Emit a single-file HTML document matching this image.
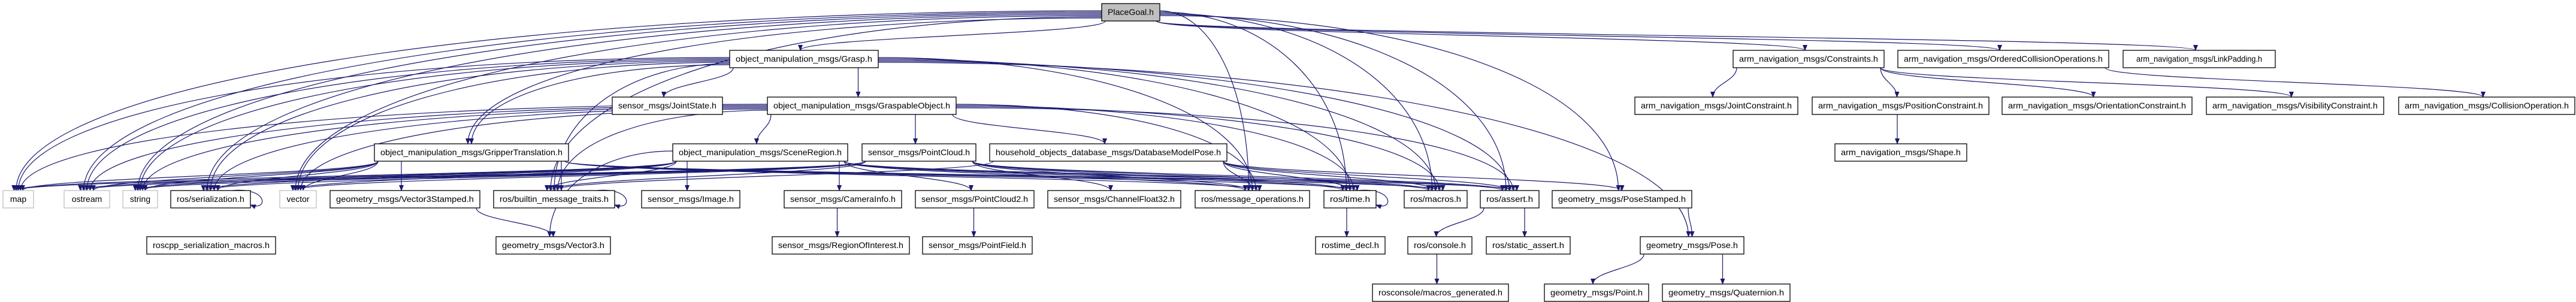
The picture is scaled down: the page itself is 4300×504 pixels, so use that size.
<!DOCTYPE html>
<html><head><meta charset="utf-8"><style>
html,body{margin:0;padding:0;background:#fff;width:4300px;height:504px;overflow:hidden}
svg{display:block}
text{font-family:"Liberation Sans","DejaVu Sans",sans-serif;font-size:14px;fill:#000}
</style></head><body>
<svg id="g" width="4300" height="504" viewBox="0 0 4300 504" xmlns="http://www.w3.org/2000/svg">
<defs><marker id="a" markerWidth="10" markerHeight="8" refX="9" refY="4" orient="auto" markerUnits="userSpaceOnUse"><path d="M0,0 L10,4 L0,8 z" fill="#191970"/></marker></defs>
<g id="edges" fill="none" stroke="#191970" stroke-width="1.2"></g>
<g id="nodes" stroke-width="1.3">
<rect x="1839" y="6" width="97" height="29" fill="#bfbfbf" stroke="#000"/><text x="1887.5" y="25" text-anchor="middle" textLength="77" lengthAdjust="spacingAndGlyphs">PlaceGoal.h</text>
<rect x="1218" y="84" width="248" height="29" fill="#fff" stroke="#000"/><text x="1342" y="103" text-anchor="middle" textLength="228" lengthAdjust="spacingAndGlyphs">object_manipulation_msgs/Grasp.h</text>
<rect x="2893" y="84" width="252" height="29" fill="#fff" stroke="#000"/><text x="3019" y="103" text-anchor="middle" textLength="232" lengthAdjust="spacingAndGlyphs">arm_navigation_msgs/Constraints.h</text>
<rect x="3168" y="84" width="352" height="29" fill="#fff" stroke="#000"/><text x="3344" y="103" text-anchor="middle" textLength="332" lengthAdjust="spacingAndGlyphs">arm_navigation_msgs/OrderedCollisionOperations.h</text>
<rect x="3544" y="84" width="254" height="29" fill="#fff" stroke="#000"/><text x="3671" y="103" text-anchor="middle" textLength="210" lengthAdjust="spacingAndGlyphs">arm_navigation_msgs/LinkPadding.h</text>
<rect x="1022" y="162" width="184" height="29" fill="#fff" stroke="#000"/><text x="1114" y="181" text-anchor="middle" textLength="164" lengthAdjust="spacingAndGlyphs">sensor_msgs/JointState.h</text>
<rect x="1281" y="162" width="315" height="29" fill="#fff" stroke="#000"/><text x="1438.5" y="181" text-anchor="middle" textLength="295" lengthAdjust="spacingAndGlyphs">object_manipulation_msgs/GraspableObject.h</text>
<rect x="2729" y="162" width="272" height="29" fill="#fff" stroke="#000"/><text x="2865" y="181" text-anchor="middle" textLength="252" lengthAdjust="spacingAndGlyphs">arm_navigation_msgs/JointConstraint.h</text>
<rect x="3025" y="162" width="295" height="29" fill="#fff" stroke="#000"/><text x="3172.5" y="181" text-anchor="middle" textLength="275" lengthAdjust="spacingAndGlyphs">arm_navigation_msgs/PositionConstraint.h</text>
<rect x="3342" y="162" width="317" height="29" fill="#fff" stroke="#000"/><text x="3500.5" y="181" text-anchor="middle" textLength="297" lengthAdjust="spacingAndGlyphs">arm_navigation_msgs/OrientationConstraint.h</text>
<rect x="3683" y="162" width="296" height="29" fill="#fff" stroke="#000"/><text x="3831" y="181" text-anchor="middle" textLength="276" lengthAdjust="spacingAndGlyphs">arm_navigation_msgs/VisibilityConstraint.h</text>
<rect x="4004" y="162" width="294" height="29" fill="#fff" stroke="#000"/><text x="4151" y="181" text-anchor="middle" textLength="274" lengthAdjust="spacingAndGlyphs">arm_navigation_msgs/CollisionOperation.h</text>
<rect x="625" y="240" width="324" height="29" fill="#fff" stroke="#000"/><text x="787" y="259" text-anchor="middle" textLength="304" lengthAdjust="spacingAndGlyphs">object_manipulation_msgs/GripperTranslation.h</text>
<rect x="1123" y="240" width="292" height="29" fill="#fff" stroke="#000"/><text x="1269" y="259" text-anchor="middle" textLength="272" lengthAdjust="spacingAndGlyphs">object_manipulation_msgs/SceneRegion.h</text>
<rect x="1439" y="240" width="190" height="29" fill="#fff" stroke="#000"/><text x="1534" y="259" text-anchor="middle" textLength="170" lengthAdjust="spacingAndGlyphs">sensor_msgs/PointCloud.h</text>
<rect x="1652" y="240" width="396" height="29" fill="#fff" stroke="#000"/><text x="1850" y="259" text-anchor="middle" textLength="376" lengthAdjust="spacingAndGlyphs">household_objects_database_msgs/DatabaseModelPose.h</text>
<rect x="3063" y="240" width="220" height="29" fill="#fff" stroke="#000"/><text x="3173" y="259" text-anchor="middle" textLength="200" lengthAdjust="spacingAndGlyphs">arm_navigation_msgs/Shape.h</text>
<rect x="5" y="318" width="51" height="29" fill="#fff" stroke="#bfbfbf"/><text x="30.5" y="337" text-anchor="middle">map</text>
<rect x="107" y="318" width="76" height="29" fill="#fff" stroke="#bfbfbf"/><text x="145" y="337" text-anchor="middle">ostream</text>
<rect x="205" y="318" width="58" height="29" fill="#fff" stroke="#bfbfbf"/><text x="234" y="337" text-anchor="middle">string</text>
<rect x="285" y="318" width="133" height="29" fill="#fff" stroke="#000"/><text x="351.5" y="337" text-anchor="middle" textLength="113" lengthAdjust="spacingAndGlyphs">ros/serialization.h</text>
<rect x="467" y="318" width="61" height="29" fill="#fff" stroke="#bfbfbf"/><text x="497.5" y="337" text-anchor="middle">vector</text>
<rect x="551" y="318" width="250" height="29" fill="#fff" stroke="#000"/><text x="676" y="337" text-anchor="middle" textLength="230" lengthAdjust="spacingAndGlyphs">geometry_msgs/Vector3Stamped.h</text>
<rect x="824" y="318" width="202" height="29" fill="#fff" stroke="#000"/><text x="925" y="337" text-anchor="middle" textLength="182" lengthAdjust="spacingAndGlyphs">ros/builtin_message_traits.h</text>
<rect x="1071" y="318" width="164" height="29" fill="#fff" stroke="#000"/><text x="1153" y="337" text-anchor="middle" textLength="144" lengthAdjust="spacingAndGlyphs">sensor_msgs/Image.h</text>
<rect x="1309" y="318" width="196" height="29" fill="#fff" stroke="#000"/><text x="1407" y="337" text-anchor="middle" textLength="176" lengthAdjust="spacingAndGlyphs">sensor_msgs/CameraInfo.h</text>
<rect x="1528" y="318" width="198" height="29" fill="#fff" stroke="#000"/><text x="1627" y="337" text-anchor="middle" textLength="178" lengthAdjust="spacingAndGlyphs">sensor_msgs/PointCloud2.h</text>
<rect x="1749" y="318" width="222" height="29" fill="#fff" stroke="#000"/><text x="1860" y="337" text-anchor="middle" textLength="202" lengthAdjust="spacingAndGlyphs">sensor_msgs/ChannelFloat32.h</text>
<rect x="1995" y="318" width="191" height="29" fill="#fff" stroke="#000"/><text x="2090.5" y="337" text-anchor="middle" textLength="171" lengthAdjust="spacingAndGlyphs">ros/message_operations.h</text>
<rect x="2210" y="318" width="87" height="29" fill="#fff" stroke="#000"/><text x="2253.5" y="337" text-anchor="middle" textLength="67" lengthAdjust="spacingAndGlyphs">ros/time.h</text>
<rect x="2344" y="318" width="105" height="29" fill="#fff" stroke="#000"/><text x="2396.5" y="337" text-anchor="middle" textLength="85" lengthAdjust="spacingAndGlyphs">ros/macros.h</text>
<rect x="2471" y="318" width="98" height="29" fill="#fff" stroke="#000"/><text x="2520" y="337" text-anchor="middle" textLength="78" lengthAdjust="spacingAndGlyphs">ros/assert.h</text>
<rect x="2591" y="318" width="233" height="29" fill="#fff" stroke="#000"/><text x="2707.5" y="337" text-anchor="middle" textLength="213" lengthAdjust="spacingAndGlyphs">geometry_msgs/PoseStamped.h</text>
<rect x="245" y="395" width="215" height="29" fill="#fff" stroke="#000"/><text x="352.5" y="414" text-anchor="middle" textLength="195" lengthAdjust="spacingAndGlyphs">roscpp_serialization_macros.h</text>
<rect x="828" y="395" width="191" height="29" fill="#fff" stroke="#000"/><text x="923.5" y="414" text-anchor="middle" textLength="171" lengthAdjust="spacingAndGlyphs">geometry_msgs/Vector3.h</text>
<rect x="1289" y="395" width="229" height="29" fill="#fff" stroke="#000"/><text x="1403.5" y="414" text-anchor="middle" textLength="209" lengthAdjust="spacingAndGlyphs">sensor_msgs/RegionOfInterest.h</text>
<rect x="1540" y="395" width="183" height="29" fill="#fff" stroke="#000"/><text x="1631.5" y="414" text-anchor="middle" textLength="163" lengthAdjust="spacingAndGlyphs">sensor_msgs/PointField.h</text>
<rect x="2196" y="395" width="116" height="29" fill="#fff" stroke="#000"/><text x="2254" y="414" text-anchor="middle" textLength="96" lengthAdjust="spacingAndGlyphs">rostime_decl.h</text>
<rect x="2350" y="395" width="107" height="29" fill="#fff" stroke="#000"/><text x="2403.5" y="414" text-anchor="middle" textLength="87" lengthAdjust="spacingAndGlyphs">ros/console.h</text>
<rect x="2481" y="395" width="140" height="29" fill="#fff" stroke="#000"/><text x="2551" y="414" text-anchor="middle" textLength="120" lengthAdjust="spacingAndGlyphs">ros/static_assert.h</text>
<rect x="2738" y="395" width="173" height="29" fill="#fff" stroke="#000"/><text x="2824.5" y="414" text-anchor="middle" textLength="153" lengthAdjust="spacingAndGlyphs">geometry_msgs/Pose.h</text>
<rect x="2291" y="474" width="227" height="29" fill="#fff" stroke="#000"/><text x="2404.5" y="493" text-anchor="middle" textLength="207" lengthAdjust="spacingAndGlyphs">rosconsole/macros_generated.h</text>
<rect x="2578" y="474" width="174" height="29" fill="#fff" stroke="#000"/><text x="2665" y="493" text-anchor="middle" textLength="154" lengthAdjust="spacingAndGlyphs">geometry_msgs/Point.h</text>
<rect x="2775" y="474" width="213" height="29" fill="#fff" stroke="#000"/><text x="2881.5" y="493" text-anchor="middle" textLength="193" lengthAdjust="spacingAndGlyphs">geometry_msgs/Quaternion.h</text>
</g>
</svg>
<script>
var N={
PG:[1839,1936,6],GR:[1218,1466,84],CO:[2893,3145,84],OC:[3168,3520,84],LP:[3544,3798,84],
JS:[1022,1206,162],GO:[1281,1596,162],JC:[2729,3001,162],PC:[3025,3320,162],OR:[3342,3659,162],VC:[3683,3979,162],CP:[4004,4298,162],
GT:[625,949,240],SR:[1123,1415,240],PCL:[1439,1629,240],DB:[1652,2048,240],SH:[3063,3283,240],
map:[5,56,318],os:[107,183,318],st:[205,263,318],ser:[285,418,318],vec:[467,528,318],V3S:[551,801,318],bt:[824,1026,318],IM:[1071,1235,318],CI:[1309,1505,318],PC2:[1528,1726,318],CF:[1749,1971,318],mo:[1995,2186,318],tm:[2210,2297,318],mac:[2344,2449,318],as:[2471,2569,318],PS:[2591,2824,318],
rsm:[245,460,395],V3:[828,1019,395],ROI:[1289,1518,395],PF:[1540,1723,395],td:[2196,2312,395],con:[2350,2457,395],sa:[2481,2621,395],PO:[2738,2911,395],
mg:[2291,2518,474],PT:[2578,2752,474],QU:[2775,2988,474]};
var std=['map','os','st','ser','vec','bt','mo','tm','mac','as'];
var E=[];
function add(s,l){l.forEach(function(t){E.push([s,t]);});}
add('PG',std.concat(['GR','GT','PS','CO','OC','LP']));
add('GR',std.concat(['JS','GO','PO','GT']));
add('GO',std.concat(['PCL','DB','SR']));
add('GT',std.concat(['V3S']));
add('SR',std.concat(['IM','CI','PC2','V3']));
add('PCL',['CF','bt','mo','tm','mac','as','st','vec','map','os','ser']);
add('DB',['PS','bt','mo','tm','mac','as']);
add('V3S',['V3']);add('CI',['ROI']);add('PC2',['PF']);add('tm',['td']);
add('as',['con','sa']);add('con',['mg']);add('PS',['PO']);add('PO',['PT','QU']);
add('CO',['JC','PC','OR','VC']);add('OC',['CP']);add('PC',['SH']);
var g=document.getElementById('edges'),ns='http://www.w3.org/2000/svg';
var sideL={},sideR={},arr={};
E.forEach(function(e){
 var s=N[e[0]],t=N[e[1]];
 arr[e[1]]=(arr[e[1]]||0)+1;
 var tw=t[1]-t[0];
 var off=((arr[e[1]]%5)-2)*Math.min(6,tw/14);
 var tx=(t[0]+t[1])/2+off,ty=t[2];
 var sx,sy,d,dy;
 var far=(t[2]-s[2]>100) && (tx<s[0]-60 || tx>s[1]+60);
 if(far){
  if(tx<s[0]){sideL[e[0]]=(sideL[e[0]]||0)+1;sx=s[0];sy=s[2]+10+(sideL[e[0]]*2)%18;}
  else{sideR[e[0]]=(sideR[e[0]]||0)+1;sx=s[1];sy=s[2]+10+(sideR[e[0]]*2)%18;}
  dy=ty-sy;
  d='M'+sx+','+sy+' C'+(sx+(tx-sx)*0.55)+','+sy+' '+tx+','+(ty-dy*0.6)+' '+tx+','+ty;
 } else {
  sx=Math.min(s[1]-6,Math.max(s[0]+6,tx));sy=s[2]+29;dy=ty-sy;
  d='M'+sx+','+sy+' C'+sx+','+(sy+dy*0.45)+' '+tx+','+(ty-dy*0.45)+' '+tx+','+ty;
 }
 var p=document.createElementNS(ns,'path');
 p.setAttribute('d',d);
 p.setAttribute('marker-end','url(#a)');
 g.appendChild(p);
});
['ser','bt','tm'].forEach(function(k){var n=N[k];var x=n[1],y=n[2];
 var p=document.createElementNS(ns,'path');
 p.setAttribute('d','M'+(x-30)+','+y+' C'+(x+30)+','+(y-6)+' '+(x+30)+','+(y+35)+' '+x+','+(y+24));
 p.setAttribute('marker-end','url(#a)');g.appendChild(p);});
</script>
</body></html>
